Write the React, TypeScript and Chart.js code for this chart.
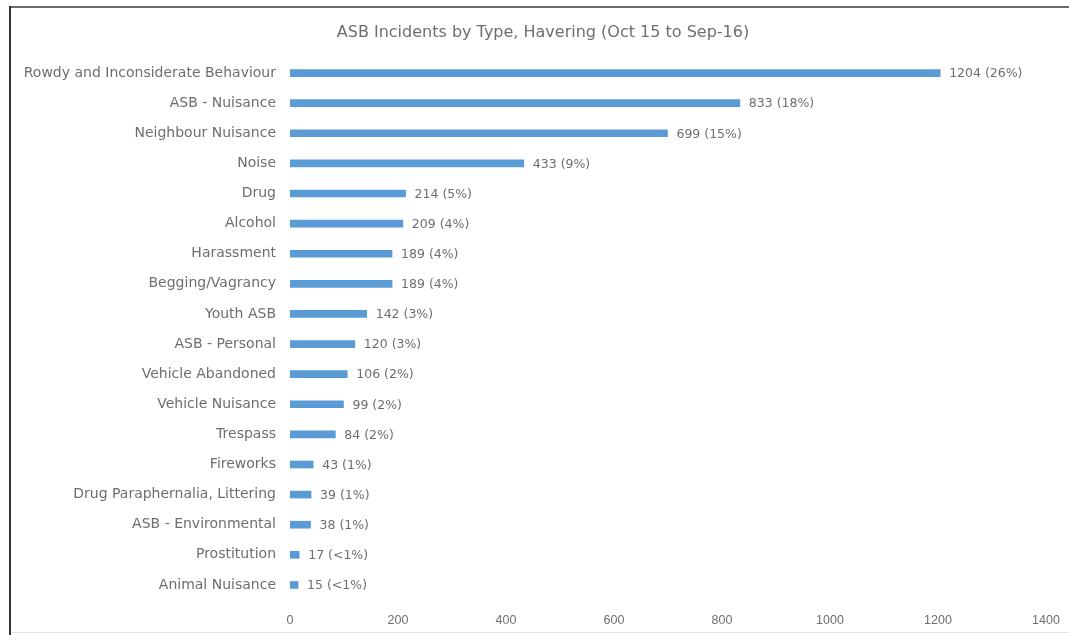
import React, { useEffect, useRef } from "react";
import { Chart, registerables } from "chart.js";

Chart.register(...registerables);

const categories = [
  "Rowdy and Inconsiderate Behaviour",
  "ASB - Nuisance",
  "Neighbour Nuisance",
  "Noise",
  "Drug",
  "Alcohol",
  "Harassment",
  "Begging/Vagrancy",
  "Youth ASB",
  "ASB - Personal",
  "Vehicle Abandoned",
  "Vehicle Nuisance",
  "Trespass",
  "Fireworks",
  "Drug Paraphernalia, Littering",
  "ASB - Environmental",
  "Prostitution",
  "Animal Nuisance",
];

const incidents = [1204, 833, 699, 433, 214, 209, 189, 189, 142, 120, 106, 99, 84, 43, 39, 38, 17, 15];

const shares = ["26%", "18%", "15%", "9%", "5%", "4%", "4%", "4%", "3%", "3%", "2%", "2%", "2%", "1%", "1%", "1%", "<1%", "<1%"];

const xTicks = [0, 200, 400, 600, 800, 1000, 1200, 1400];

const title = "ASB Incidents by Type, Havering (Oct 15 to Sep-16)";

const TEXT = "#6e6e6e";

export default function App() {
  const ref = useRef<HTMLCanvasElement | null>(null);

  useEffect(() => {
    if (!ref.current) return;
    const frame = {
      id: "frame",
      beforeDraw(chart: any) {
        const ctx = chart.ctx;
        ctx.save();
        ctx.fillStyle = "#ffffff";
        ctx.fillRect(0, 0, chart.width, chart.height);
        ctx.fillStyle = "#6a6a6a";
        ctx.fillRect(9, 6, chart.width - 9, 2);
        ctx.fillStyle = "#333333";
        ctx.fillRect(9, 6, 2, chart.height - 6);
        ctx.fillStyle = "#e2e2e2";
        ctx.fillRect(11, chart.height - 3, chart.width - 11, 1);
        ctx.font = "16px 'DejaVu Sans'";
        ctx.fillStyle = TEXT;
        ctx.textAlign = "center";
        ctx.textBaseline = "middle";
        ctx.fillText(title, 543, 33);
        ctx.restore();
      },
    };
    const labels = {
      id: "barLabels",
      afterDatasetsDraw(chart: any) {
        const ctx = chart.ctx;
        const meta = chart.getDatasetMeta(0);
        ctx.save();
        ctx.font = "12.5px 'DejaVu Sans'";
        ctx.fillStyle = TEXT;
        ctx.textAlign = "left";
        ctx.textBaseline = "middle";
        meta.data.forEach((el: any, i: number) => {
          ctx.fillText(`${incidents[i]} (${shares[i]})`, el.x + 9, el.y + 1);
        });
        ctx.restore();
      },
    };
    const chart = new Chart(ref.current, {
      type: "bar",
      data: {
        labels: categories,
        datasets: [
          {
            data: incidents,
            backgroundColor: "#5B9BD5",
            borderWidth: 0,
            barThickness: 7,
          },
        ],
      },
      options: {
        indexAxis: "y",
        responsive: false,
        animation: false,
        layout: { padding: { left: 0, right: 23, top: 58, bottom: 0 } },
        plugins: {
          legend: { display: false },
          tooltip: { enabled: false },
          title: { display: false },
        },
        scales: {
          x: {
            min: 0,
            max: 1400,
            afterBuildTicks(scale: any) {
              scale.ticks = xTicks.map((v) => ({ value: v }));
            },
            afterFit(scale: any) {
              scale.height = 35;
            },
            grid: { display: false },
            border: { display: false },
            ticks: {
              color: TEXT,
              padding: 5,
              font: { family: "'Liberation Sans'", size: 12.5 },
              maxRotation: 0,
              callback: (v: any) => String(v),
            },
          },
          y: {
            grid: { display: false },
            border: { display: false },
            afterFit(scale: any) {
              scale.width = 290;
            },
            ticks: {
              color: TEXT,
              padding: 6,
              autoSkip: false,
              font: { family: "'DejaVu Sans'", size: 14 },
            },
          },
        },
      },
      plugins: [frame, labels],
    });
    return () => chart.destroy();
  }, []);

  return (
    <div style={{ position: "fixed", left: 0, top: 0, width: 1069, height: 635 }}>
      <canvas ref={ref} width={1069} height={635} />
    </div>
  );
}
